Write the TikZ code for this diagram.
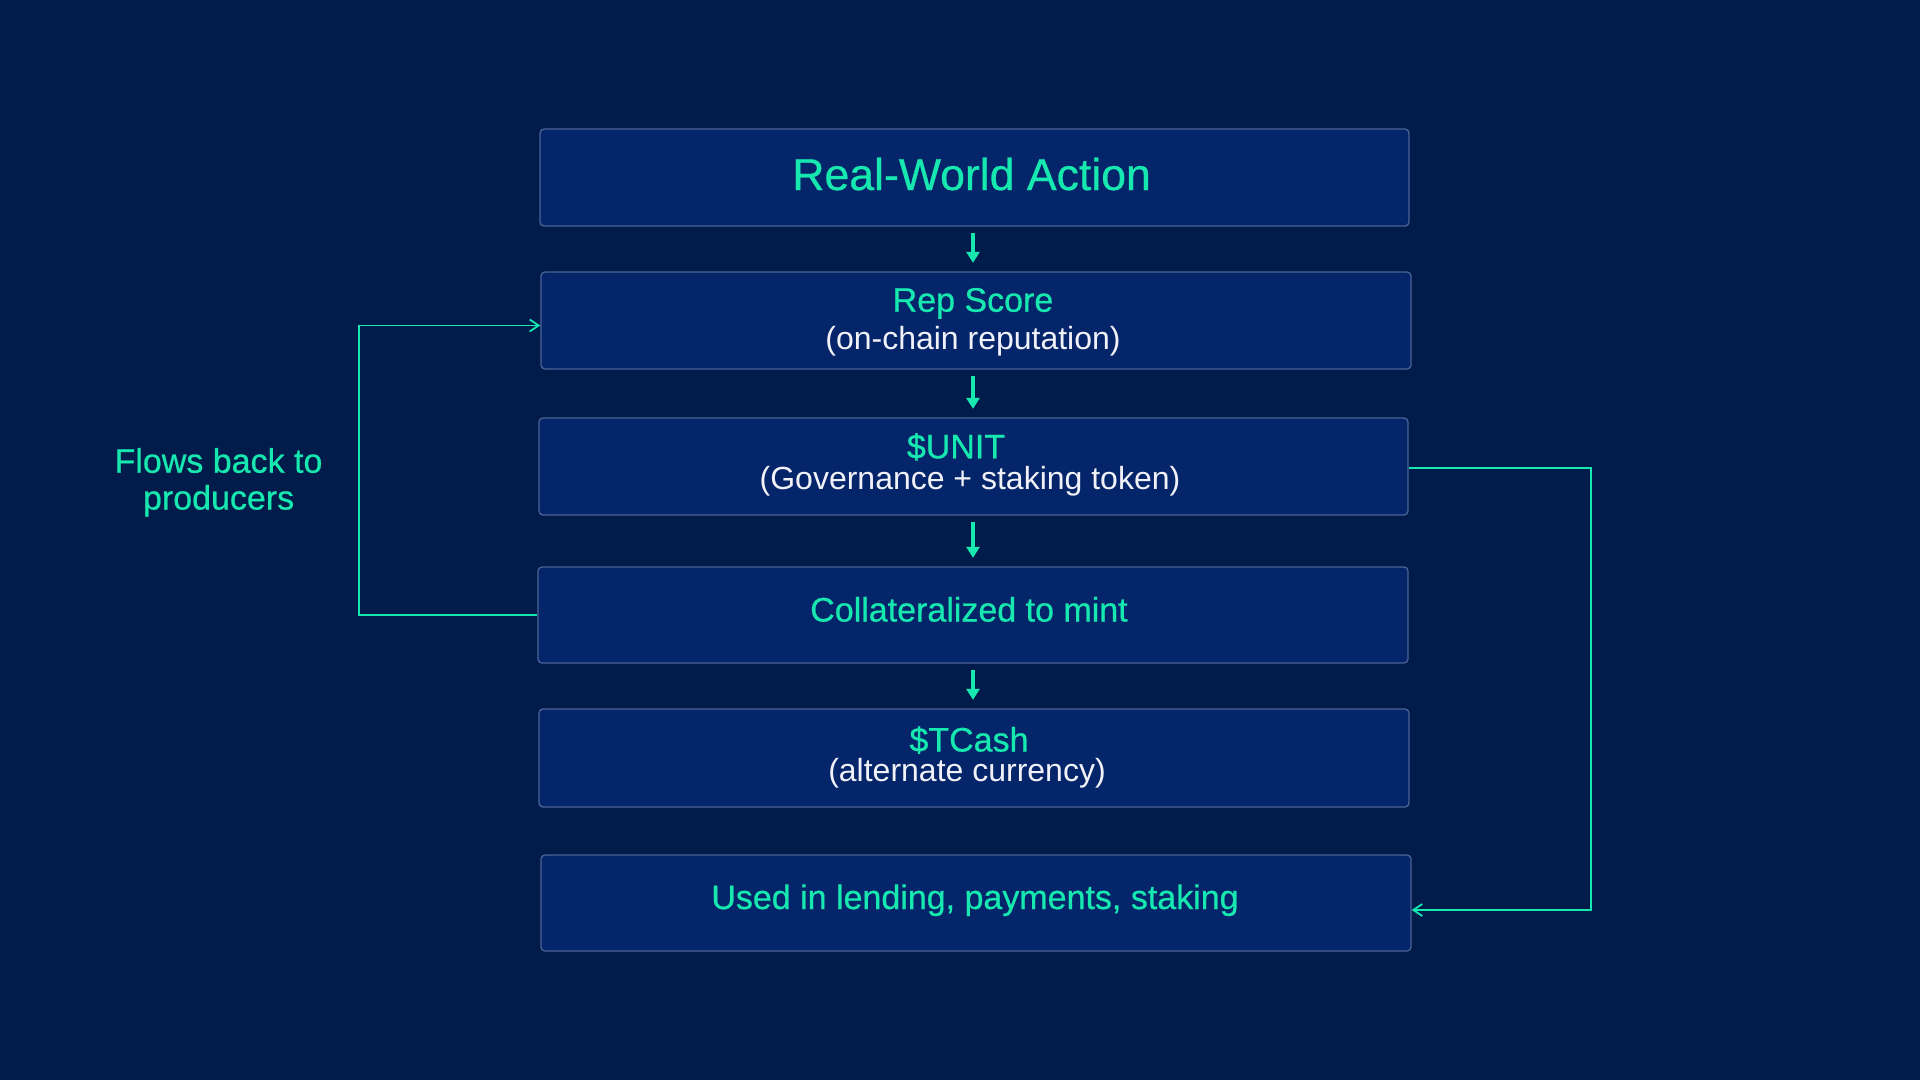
\documentclass[tikz,border=0pt]{standalone}
\usepackage{fontspec}
\setmainfont{Liberation Sans}
\newfontfamily\medfont{Liberation Sans}[FakeBold=0.6]
\usetikzlibrary{arrows.meta}
\definecolor{bg}{RGB}{1,27,75}
\definecolor{boxfill}{RGB}{5,37,106}
\definecolor{boxline}{RGB}{75,98,150}
\definecolor{mint}{RGB}{22,232,176}
\definecolor{txtw}{RGB}{240,242,248}
\begin{document}
\begin{tikzpicture}[x=1pt,y=-1pt,
  flowbox/.style={draw=boxline, line width=1.3pt, fill=boxfill, rounded corners=4pt, inner sep=0pt},
  gtext/.style={text=mint, inner sep=0pt, anchor=base, font=\medfont\fontsize{34}{40}\selectfont},
  ttext/.style={text=mint, inner sep=0pt, anchor=base, font=\medfont\fontsize{44.6}{52}\selectfont},
  wtext/.style={text=txtw, inner sep=0pt, anchor=base, font=\fontsize{32}{38}\selectfont},
  downarrow/.style={draw=mint, line width=4.5pt, -{Triangle[length=11pt,width=13pt]}, shorten <=6.5pt, shorten >=8.5pt},
  loopline/.style={draw=mint, line width=1.8pt, -{Straight Barb[length=9pt,width=12pt]}}
]
\fill[bg] (0,0) rectangle (1920,1080);
\useasboundingbox (0,0) rectangle (1920,1080);

% boxes
\node[flowbox, minimum width=869pt, minimum height=97pt] (box1) at (974.5,177.5) {};
\node[flowbox, minimum width=870pt, minimum height=97pt] (box2) at (976,320.5) {};
\node[flowbox, minimum width=869pt, minimum height=97pt] (box3) at (973.5,466.5) {};
\node[flowbox, minimum width=870pt, minimum height=96pt] (box4) at (973,615) {};
\node[flowbox, minimum width=870pt, minimum height=98pt] (box5) at (974,758) {};
\node[flowbox, minimum width=870pt, minimum height=96pt] (box6) at (976,903) {};

% texts
\node[ttext] (t1) at (971.6,190) {Real-World Action};
\node[gtext] (t2a) at (973,311.7) {Rep Score};
\node[wtext] (t2b) at (973,349.3) {(on-chain reputation)};
\node[gtext] (t3a) at (956,458.3) {\$UNIT};
\node[wtext] (t3b) at (970,489.3) {(Governance + staking token)};
\node[gtext] (t4) at (969,621.5) {Collateralized to mint};
\node[gtext] (t5a) at (969,751.5) {\$TCash};
\node[wtext] (t5b) at (967,781) {(alternate currency)};
\node[gtext] (t6) at (975,909) {Used in lending, payments, staking};
\node[gtext] (f1) at (218.5,472.7) {Flows back to};
\node[gtext] (f2) at (218.6,509.5) {producers};

% spine arrows
\coordinate (spine) at (973,0);
\draw[downarrow] (box1.south -| spine) -- (box2.north -| spine);
\draw[downarrow] (box2.south -| spine) -- (box3.north -| spine);
\draw[downarrow] (box3.south -| spine) -- (box4.north -| spine);
\draw[downarrow] (box4.south -| spine) -- (box5.north -| spine);

% loops
\coordinate (lx) at (358.7,0);
\coordinate (rx) at (1590.7,0);
\draw[loopline] (box4.west) -- (box4.west -| lx) |- ([yshift=-5pt]box2.west);
\draw[loopline] ([yshift=-1.5pt]box3.east) -- ([yshift=-1.5pt]box3.east -| rx) |- ([yshift=-7pt]box6.east);
\end{tikzpicture}
\end{document}
